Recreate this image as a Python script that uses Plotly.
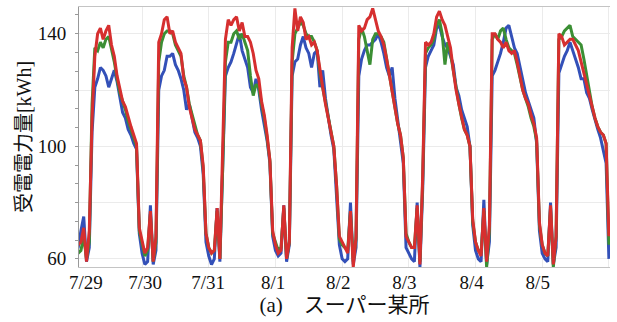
import plotly.graph_objects as go

# hours since 7/29 00:00, hourly readings
hours = list(range(0, 193))

tick_hours = [3.8, 25.1, 47.8, 71.2, 94.6, 118.4, 142.6, 166.4]
tick_labels = ["7/29", "7/30", "7/31", "8/1", "8/2", "8/3", "8/4", "8/5"]

y_tickvals = [60, 80, 100, 120, 140]
y_ticktext = ["60", "", "100", "", "140"]

red = [
    64, 65, 66, 71, 59, 70, 110, 132, 140, 142, 138, 141, 143, 136, 132, 125, 120, 116, 114, 110, 107, 104, 101, 71,   # 7/29
    66, 62, 64, 77, 59, 68, 137, 140, 145, 146, 140, 141, 137, 135, 133, 124, 121, 114, 110, 106, 104, 102, 93, 69,    # 7/30
    64, 62, 63, 78, 60, 95, 138, 145, 143, 145, 146, 141, 144, 139, 139, 137, 133, 127, 124, 116, 111, 104, 95, 70,    # 7/31
    65, 62, 63, 79, 60, 66, 135, 149, 141, 146, 144, 138, 139, 136, 137, 134, 127, 121, 115, 110, 105, 100, 86, 68,    # 8/1
    66, 64, 62, 77, 57, 68, 143, 141, 142, 145, 146, 149, 145, 141, 139, 136, 131, 125, 119, 114, 108, 104, 96, 68,    # 8/2
    66, 64, 64, 79, 58, 90, 137, 136, 137, 140, 146, 148, 145, 143, 139, 135, 127, 120, 115, 110, 106, 104, 100, 74,   # 8/3
    66, 63, 61, 78, 59, 72, 140, 140, 138, 137, 135, 137, 134, 133, 134, 130, 125, 120, 117, 115, 111, 108, 103, 73,   # 8/4
    65, 62, 61, 79, 58, 68, 140, 139, 136, 137, 138, 138, 136, 134, 130, 126, 122, 118, 113, 110, 107, 105, 104, 101,  # 8/5
    68,
]

green = [
    63, 62, 63, 68, 60, 66, 115, 135, 134, 137, 135, 138, 139, 135, 130, 124, 119, 116, 113, 109, 106, 103, 100, 70,
    65, 61, 63, 76, 59, 66, 130, 137, 140, 141, 141, 140, 136, 134, 132, 125, 121, 115, 111, 107, 104, 102, 92, 69,
    64, 62, 63, 77, 60, 92, 130, 137, 137, 140, 141, 138, 140, 137, 134, 125, 118, 122, 121, 115, 110, 103, 95, 69,
    66, 63, 64, 78, 60, 66, 130, 140, 142, 144, 143, 140, 139, 139, 137, 134, 126, 121, 115, 110, 105, 100, 86, 67,
    65, 64, 63, 77, 59, 67, 138, 142, 139, 134, 129, 138, 140, 140, 139, 137, 131, 126, 119, 114, 108, 104, 96, 69,
    66, 64, 64, 78, 59, 88, 133, 135, 136, 138, 143, 145, 140, 129, 137, 133, 127, 120, 115, 110, 106, 104, 100, 73,
    66, 63, 62, 77, 57, 70, 138, 140, 138, 141, 142, 138, 135, 134, 133, 129, 124, 120, 117, 114, 110, 107, 102, 72,
    65, 62, 61, 78, 57, 68, 138, 139, 141, 142, 143, 139, 138, 137, 136, 131, 125, 119, 114, 110, 107, 105, 104, 101,
    65,
]

blue = [
    63, 64, 70, 75, 59, 64, 105, 121, 124, 128, 127, 125, 121, 124, 127, 123, 117, 112, 110, 106, 104, 101, 99, 69,
    62, 58, 59, 79, 58, 63, 120, 125, 127, 132, 132, 133, 129, 127, 124, 120, 113, 115, 110, 105, 103, 100, 90, 66,
    61, 58, 60, 78, 59, 90, 125, 128, 130, 133, 137, 140, 134, 131, 128, 121, 119, 124, 120, 113, 108, 102, 94, 68,
    63, 61, 62, 79, 59, 65, 125, 130, 131, 136, 139, 135, 133, 128, 133, 134, 121, 127, 117, 110, 104, 99, 84, 65,
    60, 59, 60, 80, 58, 64, 125, 131, 134, 136, 136, 137, 138, 140, 137, 133, 128, 125, 128, 117, 109, 103, 94, 64,
    62, 60, 59, 80, 57, 85, 128, 132, 134, 136, 142, 143, 139, 136, 135, 132, 129, 121, 118, 113, 110, 107, 100, 72,
    63, 60, 59, 81, 58, 66, 125, 127, 130, 133, 137, 142, 143, 139, 135, 133, 128, 123, 119, 116, 113, 110, 101, 70,
    62, 60, 59, 80, 58, 64, 126, 129, 132, 134, 137, 134, 131, 128, 124, 124, 119, 117, 113, 109, 106, 103, 99, 94,
    60,
]

series = [("blue", blue, "#3350b8"), ("green", green, "#3b8f34"), ("red", red, "#d62f2f")]

fig = go.Figure()
for name, vals, col in series:
    fig.add_trace(go.Scatter(x=hours, y=vals, mode="lines", name=name,
                             line=dict(color=col, width=3)))

FONT = "Liberation Serif, 'Noto Sans CJK JP', serif"

fig.update_layout(
    width=617, height=322,
    margin=dict(l=79, r=7, t=7, b=55, autoexpand=False),
    paper_bgcolor="white", plot_bgcolor="white",
    showlegend=False,
    font=dict(family=FONT, size=19, color="#111111"),
)

fig.update_xaxes(
    automargin=False,
    range=[1.3, 192.4],
    tickmode="array", tickvals=tick_hours, ticktext=tick_labels,
    showgrid=False, zeroline=False,
    minor=dict(tick0=0, dtick=24, showgrid=True, gridcolor="#ebebeb", gridwidth=1, ticks=""),
    showline=True, linecolor="#c4c4c4", linewidth=1, mirror=True,
    ticks="",
    ticklabelstandoff=-2,
    title=dict(text="(a)　スーパー某所", font=dict(size=21), standoff=0),
)

fig.update_yaxes(
    automargin=False,
    range=[57.1, 149.5],
    tickmode="array", tickvals=y_tickvals, ticktext=y_ticktext,
    showgrid=True, gridcolor="#ebebeb", gridwidth=1, zeroline=False,
    ticks="outside", ticklen=3, tickcolor="#999999",
    minor=dict(tick0=60, dtick=20 / 3, ticks="outside", ticklen=3, tickcolor="#999999", showgrid=False),
    showline=True, linecolor="#999999", linewidth=1,
    ticklabelstandoff=5,
    title=dict(text="受電電力量[kWh]", font=dict(size=20), standoff=0),
)

fig.write_html("out.html", config={"displayModeBar": False},
               post_script="document.body.style.margin='0';")
